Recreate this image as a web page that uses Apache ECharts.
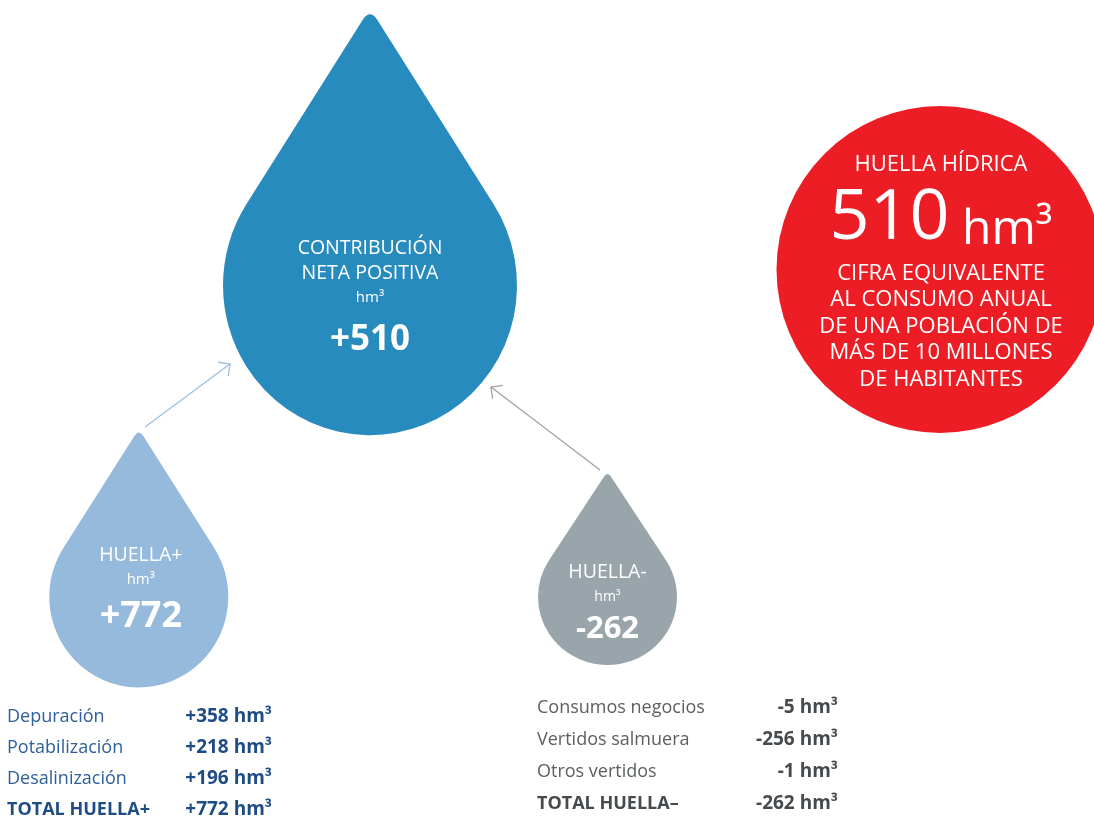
<!DOCTYPE html>
<html>
<head>
<meta charset="utf-8">
<title>Huella hídrica</title>
<script src="https://cdn.jsdelivr.net/npm/echarts@6/dist/echarts.min.js"></script>
<style>
  html, body { margin: 0; padding: 0; background: #fff; }
  #main { width: 1094px; height: 816px; }
</style>
</head>
<body>
<div id="main"></div>
<script>
const dropTitles = ['CONTRIBUCIÓN\nNETA POSITIVA', 'HUELLA+', 'HUELLA-']
const positiveItems = ['Depuración', 'Potabilización', 'Desalinización']
const positiveValues = [358, 218, 196]
const negativeItems = ['Consumos negocios', 'Vertidos salmuera', 'Otros vertidos']
const negativeValues = [-5, -256, -1]
const footprintTitle = 'HUELLA HÍDRICA'
const footprintNote = ['CIFRA EQUIVALENTE', 'AL CONSUMO ANUAL', 'DE UNA POBLACIÓN DE', 'MÁS DE 10 MILLONES', 'DE HABITANTES']

const totalPositive = positiveValues.reduce((a, b) => a + b, 0) // 772
const totalNegative = negativeValues.reduce((a, b) => a + b, 0) // -262
const netContribution = totalPositive + totalNegative // 510
const dropValues = [netContribution, totalPositive, totalNegative]

// layout (pixels, axes are 1:1 with the canvas)
const dropLayout = [
  { center: [370, 224.7], size: [294, 421], color: '#288bbe', labelOffset: [0, 78], t: 19.5, u: 15, v: 35, vLine: 60 },
  { center: [138.8, 560], size: [179, 255], color: '#95badb', labelOffset: [2, 32], t: 19.5, u: 15, v: 36, vLine: 50 },
  { center: [607.5, 569.5], size: [139, 191], color: '#9aa5ab', labelOffset: [0, 35], t: 19.5, u: 14, v: 31, vLine: 40 }
]
const circleLayout = { center: [940, 269.5], size: 327, color: '#ed1d25', labelOffset: [1, 2] }
const arrowLayout = [
  { from: [145, 427], to: [230, 364], color: '#9cbedd' },
  { from: [600, 470], to: [491, 387], color: '#9aa5ab' }
]
const tableLayout = [
  { x: 7, right: 272, rows: [717, 748, 779, 810], label: '#2f609a', value: '#1f4c85', total: 'TOTAL HUELLA+' },
  { x: 537, right: 838, rows: [708, 740, 772, 804], label: '#5b5f62', value: '#464a4d', total: 'TOTAL HUELLA–' }
]

const dropPath = 'path://M47.43,4 Q50,0 52.57,4 L92.06,65.45 A50,50 0 1 1 7.94,65.45 Z'
const FONT = '"Open Sans", "Noto Sans", sans-serif'

function signed(v) {
  return (v > 0 ? '+' : '') + v
}

const dropData = dropTitles.map((title, i) => {
  const l = dropLayout[i]
  return {
    name: title,
    value: [l.center[0], l.center[1], dropValues[i]],
    symbolSize: l.size,
    itemStyle: { color: l.color, opacity: 1 },
    label: {
      offset: l.labelOffset,
      rich: {
        t: { fontSize: l.t, lineHeight: 25, color: '#fff', fontFamily: FONT },
        u: { fontSize: l.u, lineHeight: 24, color: '#fff', fontFamily: FONT },
        v: { fontSize: l.v, lineHeight: l.vLine, color: '#fff', fontWeight: 'bold', fontFamily: FONT }
      }
    }
  }
})

function arrowGraphic(a) {
  const dx = a.from[0] - a.to[0]
  const dy = a.from[1] - a.to[1]
  const len = Math.sqrt(dx * dx + dy * dy)
  const ux = dx / len
  const uy = dy / len
  const arm = 12
  const c = Math.cos(Math.PI / 4)
  const s = Math.sin(Math.PI / 4)
  const p1 = [a.to[0] + arm * (ux * c - uy * s), a.to[1] + arm * (ux * s + uy * c)]
  const p2 = [a.to[0] + arm * (ux * c + uy * s), a.to[1] + arm * (-ux * s + uy * c)]
  return [
    { type: 'line', shape: { x1: a.from[0], y1: a.from[1], x2: a.to[0], y2: a.to[1] }, style: { stroke: a.color, lineWidth: 1.3 } },
    { type: 'polyline', shape: { points: [p1, a.to, p2] }, style: { stroke: a.color, lineWidth: 1.3, fill: null } }
  ]
}

function tableGraphic(items, values, l) {
  const rows = items.map((name, i) => [name, values[i], false])
  rows.push([l.total, values.reduce((a, b) => a + b, 0), true])
  const out = []
  rows.forEach((r, i) => {
    out.push({
      type: 'text', x: l.x, y: l.rows[i],
      style: {
        text: r[0], fill: r[2] ? l.value : l.label, align: 'left', verticalAlign: 'middle',
        font: (r[2] ? 'bold ' : '') + '18px ' + FONT
      }
    })
    out.push({
      type: 'text', x: l.right, y: l.rows[i],
      style: {
        text: signed(r[1]) + ' hm³', fill: l.value, align: 'right', verticalAlign: 'middle',
        font: 'bold 19px ' + FONT
      }
    })
  })
  return out
}

const chart = echarts.init(document.getElementById('main'))

chart.setOption({
  animation: false,
  backgroundColor: '#fff',
  grid: { left: 0, right: 0, top: 0, bottom: 0 },
  xAxis: { type: 'value', min: 0, max: 1094, show: false },
  yAxis: { type: 'value', min: 0, max: 816, inverse: true, show: false },
  graphic: [
    ...arrowLayout.flatMap(arrowGraphic),
    ...tableGraphic(positiveItems, positiveValues, tableLayout[0]),
    ...tableGraphic(negativeItems, negativeValues, tableLayout[1])
  ],
  series: [
    {
      type: 'scatter',
      silent: true,
      symbol: dropPath,
      data: dropData,
      label: {
        show: true,
        position: 'inside',
        align: 'center',
        formatter: p => {
          const lines = p.name.split('\n').map(t => '{t|' + t + '}')
          return lines.concat(['{u|hm³}', '{v|' + signed(p.value[2]) + '}']).join('\n')
        }
      }
    },
    {
      type: 'scatter',
      silent: true,
      symbol: 'circle',
      symbolSize: circleLayout.size,
      itemStyle: { color: circleLayout.color, opacity: 1 },
      data: [{ name: footprintTitle, value: [circleLayout.center[0], circleLayout.center[1], netContribution] }],
      label: {
        show: true,
        position: 'inside',
        align: 'center',
        offset: circleLayout.labelOffset,
        formatter: p => [
          '{h|' + p.name + '}',
          '{big|' + p.value[2] + '}{unit| hm³}',
          '{gap| }'
        ].concat(footprintNote.map(t => '{n|' + t + '}')).join('\n'),
        rich: {
          h: { fontSize: 22, lineHeight: 28, color: '#fff', fontFamily: FONT },
          big: { fontSize: 70, lineHeight: 66, verticalAlign: 'bottom', color: '#fff', fontFamily: FONT },
          unit: { fontSize: 48, lineHeight: 76, verticalAlign: 'bottom', color: '#fff', fontFamily: FONT },
          gap: { fontSize: 6, lineHeight: 6 },
          n: { fontSize: 22, lineHeight: 26.5, color: '#fff', fontFamily: FONT }
        }
      }
    }
  ]
})
</script>
</body>
</html>
